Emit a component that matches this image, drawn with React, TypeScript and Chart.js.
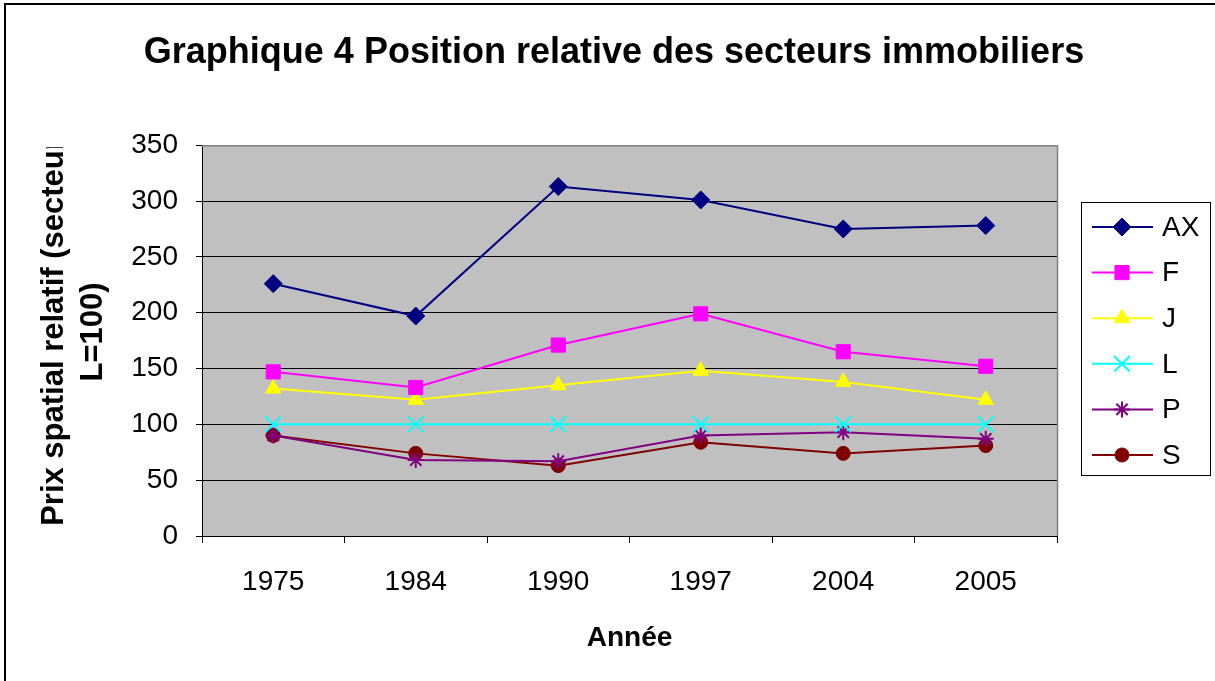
import React, { useEffect, useRef } from 'react';
import { Chart, registerables } from 'chart.js';
import { drawPoint } from 'chart.js/helpers';

Chart.register(...registerables);

const FONT = '"Liberation Sans", Arial, sans-serif';

const YEARS = ['1975', '1984', '1990', '1997', '2004', '2005'];
const AX = [226, 197, 313, 301, 275, 278];
const F = [147, 133, 171, 199, 165, 152];
const J = [132, 122, 135, 148, 138, 122];
const L = [100, 100, 100, 100, 100, 100];
const P = [90, 68, 67, 90, 93, 87];
const S = [90, 74, 63, 84, 74, 81];

const SERIES_NAMES = ['AX', 'F', 'J', 'L', 'P', 'S'];
const SERIES_DATA = [AX, F, J, L, P, S];
const SERIES_COLORS = ['#000080', '#FF00FF', '#FFFF00', '#00FFFF', '#800080', '#800000'];
const SERIES_MARKERS = ['rectRot', 'rect', 'triangle', 'crossRot', 'star', 'circle'];
const SERIES_RADII = [9, 10, 9, 11, 8, 7];

const TITLE = 'Graphique 4 Position relative des secteurs immobiliers';
const X_TITLE = 'Année';
const Y_TITLE = ['Prix spatial relatif (secteur', 'L=100)'];
const Y_MIN = 0;
const Y_MAX = 350;
const Y_STEP = 50;

const decorPlugin = {
  id: 'decor',
  beforeDraw(chart: any) {
    const { ctx, chartArea } = chart;
    ctx.save();
    ctx.fillStyle = '#FFFFFF';
    ctx.fillRect(0, 0, chart.width, chart.height);
    ctx.fillStyle = '#C0C0C0';
    ctx.fillRect(chartArea.left, chartArea.top, chartArea.right - chartArea.left, chartArea.bottom - chartArea.top);
    ctx.restore();
  },
  afterDraw(chart: any) {
    const { ctx, chartArea, data } = chart;
    ctx.save();
    // plot border (top & right) in gray
    ctx.strokeStyle = '#808080';
    ctx.lineWidth = 1.5;
    ctx.beginPath();
    ctx.moveTo(chartArea.left, chartArea.top + 0.5);
    ctx.lineTo(chartArea.right + 0.5, chartArea.top + 0.5);
    ctx.lineTo(chartArea.right + 0.5, chartArea.bottom);
    ctx.stroke();

    // outer chart border (top & left visible)
    ctx.strokeStyle = '#000000';
    ctx.lineWidth = 2;
    ctx.beginPath();
    ctx.moveTo(5, chart.height + 5);
    ctx.lineTo(5, 4);
    ctx.lineTo(chart.width + 5, 4);
    ctx.stroke();

    // y-axis title (clipped at plot top like the original)
    ctx.save();
    ctx.beginPath();
    ctx.rect(0, chartArea.top + 2, chartArea.left, chart.height);
    ctx.clip();
    ctx.font = 'bold 31px ' + FONT;
    ctx.fillStyle = '#000000';
    ctx.textAlign = 'center';
    ctx.textBaseline = 'middle';
    ctx.save();
    ctx.translate(54, 332);
    ctx.rotate(-Math.PI / 2);
    ctx.fillText(Y_TITLE[0], 0, 0);
    ctx.restore();
    ctx.save();
    ctx.translate(93, 332);
    ctx.rotate(-Math.PI / 2);
    ctx.fillText(Y_TITLE[1], 0, 0);
    ctx.restore();
    ctx.restore();

    // legend
    const bx = 1081, by = 202, bw = 129, bh = 273;
    ctx.fillStyle = '#FFFFFF';
    ctx.fillRect(bx, by, bw, bh);
    ctx.strokeStyle = '#000000';
    ctx.lineWidth = 1;
    ctx.strokeRect(bx + 0.5, by + 0.5, bw, bh);
    data.datasets.forEach((ds: any, i: number) => {
      const y = 227 + i * 45.6;
      ctx.strokeStyle = ds.borderColor;
      ctx.lineWidth = 2;
      ctx.beginPath();
      ctx.moveTo(1092, y);
      ctx.lineTo(1153, y);
      ctx.stroke();
      ctx.fillStyle = ds.pointBackgroundColor;
      ctx.strokeStyle = ds.borderColor;
      ctx.lineWidth = ds.pointBorderWidth;
      drawPoint(ctx, { pointStyle: ds.pointStyle, rotation: 0, radius: ds.pointRadius, borderWidth: ds.pointBorderWidth }, 1122, y);
      ctx.fillStyle = '#000000';
      ctx.font = '28px ' + FONT;
      ctx.textAlign = 'left';
      ctx.textBaseline = 'middle';
      ctx.fillText(ds.label, 1162, y + 1);
    });
    ctx.restore();
  },
};

export default function App() {
  const canvasRef = useRef<HTMLCanvasElement | null>(null);

  useEffect(() => {
    const canvas = canvasRef.current;
    if (!canvas) return;
    const datasets = SERIES_NAMES.map((name, i) => {
      const cross = SERIES_MARKERS[i] === 'crossRot' || SERIES_MARKERS[i] === 'star';
      return {
        label: name,
        data: SERIES_DATA[i],
        borderColor: SERIES_COLORS[i],
        backgroundColor: SERIES_COLORS[i],
        pointBackgroundColor: SERIES_COLORS[i],
        pointBorderColor: SERIES_COLORS[i],
        pointStyle: SERIES_MARKERS[i],
        pointRadius: SERIES_RADII[i],
        pointBorderWidth: cross ? 2 : 1,
        borderWidth: 2,
        tension: 0,
        fill: false,
        clip: false as any,
      };
    });
    const chart = new Chart(canvas, {
      type: 'line',
      data: { labels: YEARS, datasets },
      options: {
        responsive: false,
        animation: false,
        devicePixelRatio: 1,
        layout: { padding: { left: 13, right: 0, top: 0, bottom: 0 } },
        plugins: {
          legend: { display: false },
          tooltip: { enabled: false },
          title: {
            display: true,
            text: TITLE,
            color: '#000000',
            font: { family: FONT, size: 36, weight: 'bold' },
            padding: { top: 31, bottom: 71 },
          },
        },
        scales: {
          x: {
            offset: true,
            grid: { offset: true, drawOnChartArea: false, drawTicks: true, tickLength: 7, color: '#000000', lineWidth: 1 },
            border: { color: '#000000', width: 1 },
            ticks: { font: { family: FONT, size: 28 }, color: '#000000', padding: 22, maxRotation: 0, autoSkip: false },
            title: {
              display: true,
              text: X_TITLE,
              color: '#000000',
              font: { family: FONT, size: 28, weight: 'bold' },
              padding: { top: 0, bottom: 26 },
            },
            afterFit: (s: any) => { s.height = 145; },
          },
          y: {
            min: Y_MIN,
            max: Y_MAX,
            ticks: { stepSize: Y_STEP, font: { family: FONT, size: 28 }, color: '#000000', padding: 18 },
            grid: {
              color: (c: any) => (c.tick && c.tick.value === Y_MAX ? '#808080' : '#000000'),
              tickColor: '#000000',
              tickLength: 6,
              lineWidth: 1,
            },
            border: { color: '#000000', width: 1 },
            afterFit: (s: any) => { s.width = 189; },
          },
          y2: {
            position: 'right',
            display: true,
            min: Y_MIN,
            max: Y_MAX,
            grid: { display: false, drawOnChartArea: false, drawTicks: false },
            ticks: { display: false },
            border: { display: false },
            afterFit: (s: any) => { s.width = 158; },
          },
        },
      } as any,
      plugins: [decorPlugin],
    });
    return () => chart.destroy();
  }, []);

  return (
    <div style={{ position: 'absolute', left: 0, top: 0, width: 1215, height: 681, background: '#fff' }}>
      <canvas ref={canvasRef} width={1215} height={681} style={{ display: 'block' }} />
    </div>
  );
}
